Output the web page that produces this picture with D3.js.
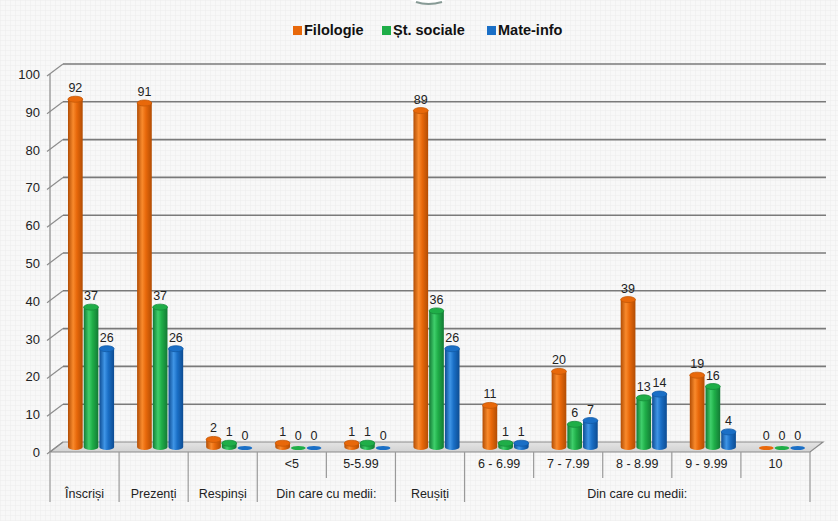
<!DOCTYPE html>
<html>
<head>
<meta charset="utf-8">
<script src="https://cdn.jsdelivr.net/npm/d3@7"></script>
<style>
    body { margin: 0; background: #f6f6f6; }
    text { font-family: "Liberation Sans", Arial, sans-serif; }
</style>
</head>
<body>
<script>
// Chart data
var series = ["Filologie", "Șt. sociale", "Mate-info"];
var filologie = [92, 91, 2, 1, 1, 89, 11, 20, 39, 19, 0];
var stSociale = [37, 37, 1, 0, 1, 36, 1, 6, 13, 16, 0];
var mateInfo = [26, 26, 0, 0, 0, 26, 1, 7, 14, 4, 0];
var subLabels = ["", "", "", "<5", "5-5.99", "",
    "6 - 6.99", "7 - 7.99", "8 - 8.99", "9 - 9.99", "10"];
var groupLabels = ["Înscriși", "Prezenți", "Respinși", "Din care cu medii:",
    "Reușiți", "Din care cu medii:"];
var groupSpans = [1, 1, 1, 2, 1, 5];
var yTicks = [0, 10, 20, 30, 40, 50, 60, 70, 80, 90, 100];

var colors = {
    "Filologie": ["#b24d04", "#f98a2c", "#e8680a", "#c45806"],
    "Șt. sociale": ["#137a35", "#3fcf6b", "#1fae48", "#168c3a"],
    "Mate-info": ["#0d4c92", "#3f95e6", "#1a6fc6", "#125aa6"]
};

var W = 838, H = 521;
var depthX = 13, depthY = -10;

var svg = d3.select("body").append("svg")
    .attr("width", W)
    .attr("height", H);

var defs = svg.append("defs");

// faint grid background
var pat = defs.append("pattern")
    .attr("id", "bgGrid")
    .attr("width", 5)
    .attr("height", 5)
    .attr("patternUnits", "userSpaceOnUse");
pat.append("rect").attr("width", 5).attr("height", 5).attr("fill", "#f8f8f8");
pat.append("path").attr("d", "M5,0 L0,0 L0,5")
    .attr("fill", "none").attr("stroke", "#ececec").attr("stroke-width", 1);

svg.append("rect").attr("width", W).attr("height", H)
    .attr("fill", "url(#bgGrid)");

// small decoration at top
svg.append("ellipse")
    .attr("cx", 428).attr("cy", -22).attr("rx", 34).attr("ry", 26)
    .attr("fill", "#ffffff");
svg.append("path")
    .attr("d", "M416,2 Q428,6 442,2")
    .attr("fill", "none").attr("stroke", "#56706a")
    .attr("stroke-width", 2).attr("opacity", 0.7);

// cylinder gradients
series.forEach(function(s, k) {
    var g = defs.append("linearGradient")
        .attr("id", "cyl" + k)
        .attr("x1", "0%").attr("x2", "100%")
        .attr("y1", "0%").attr("y2", "0%");
    g.append("stop").attr("offset", "0%").attr("stop-color", colors[s][0]);
    g.append("stop").attr("offset", "35%").attr("stop-color", colors[s][1]);
    g.append("stop").attr("offset", "60%").attr("stop-color", colors[s][2]);
    g.append("stop").attr("offset", "100%").attr("stop-color", colors[s][0]);
});

var floorGrad = defs.append("linearGradient")
    .attr("id", "floorGrad")
    .attr("x1", "0%").attr("x2", "0%").attr("y1", "0%").attr("y2", "100%");
floorGrad.append("stop").attr("offset", "0%").attr("stop-color", "#e4e4e4");
floorGrad.append("stop").attr("offset", "100%").attr("stop-color", "#d2d2d2");

// Scales
var x = d3.scaleBand()
    .domain(d3.range(filologie.length))
    .range([50, 810]);

var xs = d3.scaleBand()
    .domain(series)
    .range([0, x.bandwidth()])
    .paddingOuter(0.7);

var y = d3.scaleLinear()
    .domain([0, 100])
    .range([452, 74]);

var x0 = x.range()[0], x1 = x.range()[1];
var lineCol = "#7a7a7a";

// floor
svg.append("path")
    .attr("d", "M" + x0 + "," + y(0) +
        " L" + (x0 + depthX) + "," + (y(0) + depthY) +
        " L" + (x1 + depthX) + "," + (y(0) + depthY) +
        " L" + x1 + "," + y(0) + " Z")
    .attr("fill", "url(#floorGrad)")
    .attr("stroke", "#8a8a8a")
    .attr("stroke-width", 1.2);

// back wall gridlines and left wall diagonals
var grid = svg.append("g");
yTicks.forEach(function(t) {
    if (t > 0) {
        grid.append("line")
            .attr("x1", x0 + depthX).attr("x2", x1 + depthX + 3)
            .attr("y1", y(t) + depthY).attr("y2", y(t) + depthY)
            .attr("stroke", lineCol).attr("stroke-width", 1.6);
    }
    grid.append("line")
        .attr("x1", x0 - 3).attr("x2", x0 + depthX)
        .attr("y1", y(t) + 2).attr("y2", y(t) + depthY)
        .attr("stroke", "#8c8c8c").attr("stroke-width", 1.2);
});

// left axis line
svg.append("line")
    .attr("x1", x0).attr("x2", x0)
    .attr("y1", y(100)).attr("y2", y(0))
    .attr("stroke", "#8c8c8c").attr("stroke-width", 1.2);

// y tick labels
svg.append("g").selectAll("text")
    .data(yTicks)
    .enter().append("text")
    .attr("x", 40)
    .attr("y", function(d) { return y(d) + 5; })
    .attr("text-anchor", "end")
    .attr("font-size", 13)
    .attr("fill", "#222")
    .text(function(d) { return d; });

// bars as cylinders
var data = [filologie, stSociale, mateInfo];
var bars = svg.append("g");
var labelsG = svg.append("g");
var r = xs.bandwidth() / 2 - 0.5;
var ry = 3;
var baseY = y(0) + depthY / 2;

data.forEach(function(vals, k) {
    var s = series[k];
    vals.forEach(function(v, i) {
        var cx = x(i) + xs(s) + xs.bandwidth() / 2 + depthX / 2;
        var top = y(v) + depthY / 2;
        var g = bars.append("g");
        if (v > 0) {
            g.append("path")
                .attr("d", "M" + (cx - r) + "," + top +
                    " L" + (cx - r) + "," + baseY +
                    " A" + r + "," + ry + " 0 0 0 " + (cx + r) + "," + baseY +
                    " L" + (cx + r) + "," + top + " Z")
                .attr("fill", "url(#cyl" + k + ")");
            g.append("ellipse")
                .attr("cx", cx).attr("cy", top)
                .attr("rx", r).attr("ry", ry)
                .attr("fill", colors[s][2])
                .attr("stroke", colors[s][3])
                .attr("stroke-width", 0.8);
        } else {
            g.append("ellipse")
                .attr("cx", cx).attr("cy", baseY + 1)
                .attr("rx", r).attr("ry", 2)
                .attr("fill", colors[s][2]);
        }
        labelsG.append("text")
            .attr("x", cx)
            .attr("y", (v > 0 ? top : baseY) - ry - 4)
            .attr("text-anchor", "middle")
            .attr("font-size", 12.5)
            .attr("fill", "#222")
            .text(v);
    });
});

// x axis: category separators and labels
var axisG = svg.append("g");
var sep = [0];
var acc = 0;
groupSpans.forEach(function(n) { acc += n; sep.push(acc); });
d3.range(filologie.length + 1).forEach(function(i) {
    var xx = i < filologie.length ? x(i) : x1;
    var full = sep.indexOf(i) >= 0;
    axisG.append("line")
        .attr("x1", xx).attr("x2", xx)
        .attr("y1", y(0)).attr("y2", full ? 502 : 478)
        .attr("stroke", "#9a9a9a").attr("stroke-width", 1.2);
});

axisG.selectAll(".sub")
    .data(subLabels)
    .enter().append("text")
    .attr("class", "sub")
    .attr("x", function(d, i) { return x(i) + x.bandwidth() / 2; })
    .attr("y", 468)
    .attr("text-anchor", "middle")
    .attr("font-size", 12.5)
    .attr("fill", "#222")
    .text(function(d) { return d; });

var start = 0;
groupLabels.forEach(function(lab, j) {
    var a = x(start);
    var b = start + groupSpans[j] < filologie.length ?
        x(start + groupSpans[j]) : x1;
    axisG.append("text")
        .attr("x", (a + b) / 2)
        .attr("y", 498)
        .attr("text-anchor", "middle")
        .attr("font-size", 12.5)
        .attr("fill", "#222")
        .text(lab);
    start += groupSpans[j];
});

// legend
var legendX = [293, 382, 487];
var legend = svg.append("g");
series.forEach(function(s, k) {
    legend.append("rect")
        .attr("x", legendX[k]).attr("y", 26)
        .attr("width", 9).attr("height", 9)
        .attr("fill", colors[s][2]);
    legend.append("text")
        .attr("x", legendX[k] + 11).attr("y", 35)
        .attr("font-size", 14.5)
        .attr("font-weight", "bold")
        .attr("fill", "#111")
        .text(s);
});
</script>
</body>
</html>
